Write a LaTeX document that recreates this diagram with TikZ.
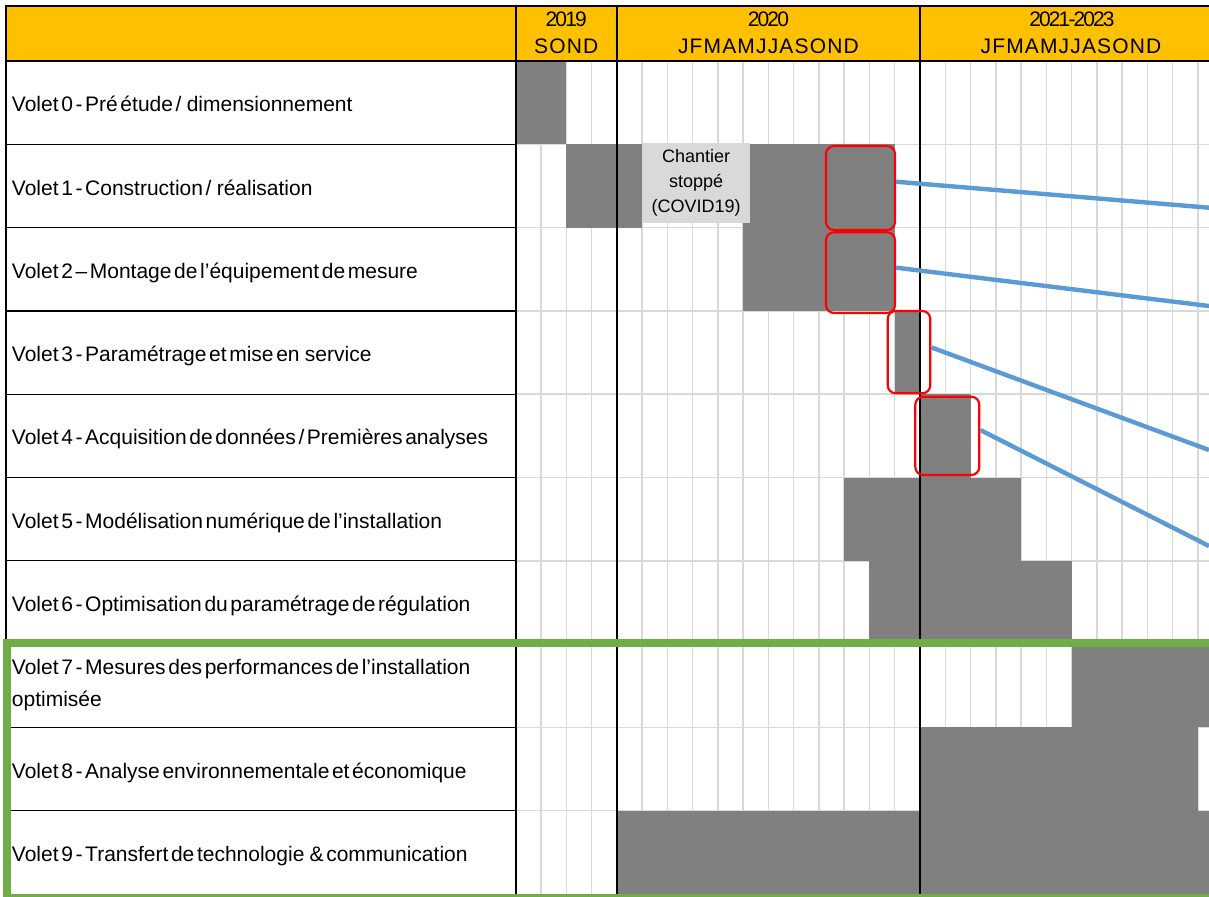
\documentclass[tikz,border=0pt]{standalone}
\usepackage{fontspec}
\setmainfont{Liberation Sans}[WordSpace=0.45]
\usetikzlibrary{fit}
\definecolor{headyellow}{HTML}{FFC000}
\definecolor{bargray}{HTML}{808080}
\definecolor{stopgray}{HTML}{D9D9D9}
\definecolor{gridgray}{HTML}{D9D9D9}
\definecolor{linkblue}{HTML}{5B9BD5}
\definecolor{framegreen}{HTML}{70AD47}
\newcommand{\ganttbar}[3]{\fill[bargray] ({515.7+25.27*#2},{61+83.3*#1}) rectangle ({515.7+25.27*#3},{61+83.3*(#1+1)});}

\begin{document}
\begin{tikzpicture}[x=0.75pt,y=-0.75pt,
  lbl/.style={anchor=base west,inner sep=0pt,align=left,font=\fontsize{15.75}{23.8}\selectfont},
  yearlbl/.style={anchor=base,inner sep=0pt,font=\fontsize{15.75}{19}\selectfont\addfontfeature{LetterSpace=-9}},
  monthlbl/.style={anchor=base,inner sep=0pt,font=\fontsize{15.75}{19}\selectfont\addfontfeature{LetterSpace=5.5}},
  hlbox/.style={draw=red,line width=1.6pt,rounded corners=6pt,inner sep=0pt},
  link/.style={linkblue,line width=3.3pt}]
  \useasboundingbox[fill=white] (0,0) rectangle (1209,896);
  \fill[headyellow] (7,7) rectangle (1224,61);
  \foreach \k in {1,...,28}
    \draw[gridgray,line width=1.1pt] ({515.7+25.27*\k},61) -- ({515.7+25.27*\k},894);
  \foreach \j in {1,...,9}
    \draw[gridgray,line width=1.1pt] (515.7,{61+83.3*\j}) -- (1224,{61+83.3*\j});

  \ganttbar{0}{0}{2}
  \ganttbar{1}{2}{5}
  \ganttbar{1}{9}{15}
  \ganttbar{2}{9}{15}
  \ganttbar{3}{15}{16}
  \ganttbar{4}{16}{18}
  \ganttbar{5}{13}{20}
  \ganttbar{6}{14}{22}
  \ganttbar{7}{22}{28}
  \ganttbar{8}{16}{27}
  \ganttbar{9}{4}{28}

  \foreach \j in {1,...,9}
    \draw[line width=1pt] (7,{61+83.3*\j}) -- (515.7,{61+83.3*\j});
  \draw[line width=1.2pt] (515.7,6) -- (515.7,896);
  \draw[line width=1.1pt] (616.78,6) -- (616.78,896);
  \draw[line width=1.1pt] (920.02,6) -- (920.02,896);
  \draw[line width=2pt] (6,6) -- (6,896);
  \draw[line width=1.7pt] (5,6) -- (1224,6);
  \draw[line width=2pt] (5,61) -- (1224,61);

  \node[yearlbl] (y2019) at (566.2,26.7) {2019};
  \node[monthlbl] (m2019) at (566.2,53.3) {SOND};
  \node[yearlbl] (y2020) at (768.4,26.7) {2020};
  \node[monthlbl] (m2020) at (768.4,53.3) {JFMAMJJASOND};
  \node[yearlbl] (y2021) at (1072,26.7) {2021-2023};
  \node[monthlbl] (m2021) at (1071,53.3) {JFMAMJJASOND};

  \node[lbl] (v0) at (11.7,111.7) {Volet 0 - Pré étude /~ dimensionnement};
  \node[lbl] (v1) at (11.7,195) {Volet 1 - Construction /~ réalisation};
  \node[lbl] (v2) at (11.7,278.3) {Volet 2 – Montage de l’équipement de mesure};
  \node[lbl] (v3) at (11.7,361.6) {Volet 3 - Paramétrage et mise en~ service};
  \node[lbl] (v4) at (11.7,444.9) {Volet 4 - Acquisition de données / Premières analyses};
  \node[lbl] (v5) at (11.7,528.2) {Volet 5 - Modélisation numérique de l’installation};
  \node[lbl] (v6) at (11.7,611.5) {Volet 6 - Optimisation du paramétrage de régulation};
  \node[lbl] (v7) at (11.7,706.7) {Volet 7 - Mesures des performances de l’installation\\optimisée};
  \node[lbl] (v8) at (11.7,778.1) {Volet 8 - Analyse environnementale et économique};
  \node[lbl] (v9) at (11.7,861.4) {Volet 9 - Transfert de technologie~ \& communication};

  \node[fill=stopgray,inner sep=0pt,fit={(642.3,143) (750,222.7)}] (covid) {};
  \node[align=center,inner sep=0pt,font=\fontsize{13.5}{18.8}\selectfont] (covidtxt) at (covid.center)
    {Chantier\\stoppé\\(COVID19)};

  \node[hlbox,fit={(826,146) (895,230)}] (hl1) {};
  \node[hlbox,fit={(826,232.3) (895,313)}] (hl2) {};
  \node[hlbox,fit={(887.7,311) (930.3,393.3)}] (hl3) {};
  \node[hlbox,fit={(915.3,396.7) (979.3,475)}] (hl4) {};
  \coordinate (out1) at (1209,207.7);
  \coordinate (out2) at (1209,306);
  \coordinate (out3) at (1209,450);
  \coordinate (out4) at (1209,546);
  \draw[link] (hl1.10) -- (out1);
  \draw[link] (hl2.8) -- (out2);
  \draw[link] (hl3.12) -- (out3);
  \draw[link] (hl4.10) -- (out4);

  \draw[framegreen,line width=5.6pt] (7.2,643) rectangle (1230,898);
\end{tikzpicture}
\end{document}
